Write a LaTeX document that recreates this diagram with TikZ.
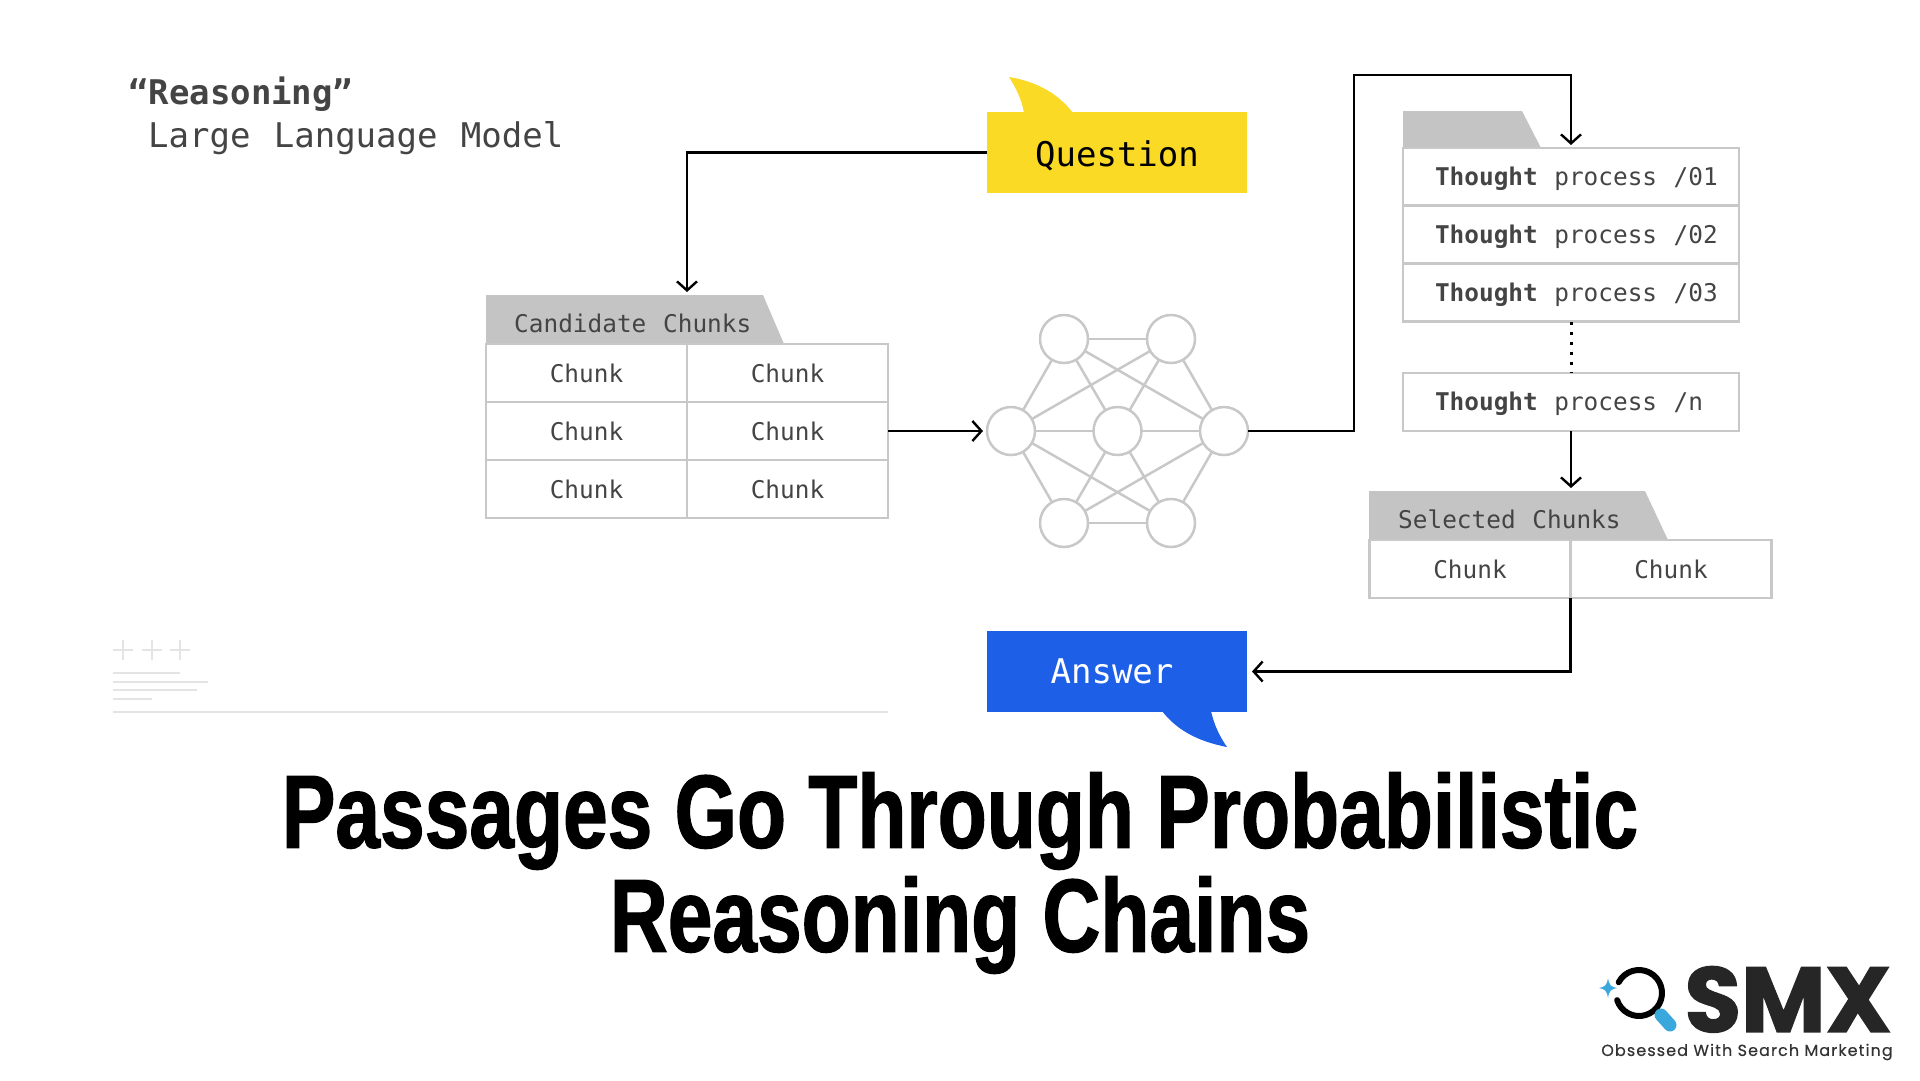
\documentclass[tikz,border=0pt]{standalone}
\usepackage{fontspec}
\usepackage{tikz}
\usetikzlibrary{calc,positioning,arrows.meta}
\setmainfont[WordSpace=1.14]{DejaVu Sans Mono}
\newfontfamily\titlefont[FakeStretch=0.772,FakeBold=1.2]{Liberation Sans}
\newfontfamily\logofont[FakeBold=1.5]{Poppins}
\newfontfamily\sloganfont[LetterSpace=6.8,FakeBold=0.4]{Poppins}
\newcommand{\tgap}{\hspace{16.5pt}}
\definecolor{cellgray}{RGB}{200,200,200}
\definecolor{tabgray}{RGB}{196,196,196}
\definecolor{inkgray}{RGB}{68,68,68}
\definecolor{faintgray}{RGB}{228,228,228}
\definecolor{askyellow}{RGB}{251,218,37}
\definecolor{ansblue}{RGB}{29,95,230}
\definecolor{logoblue}{RGB}{58,168,220}
\tikzset{
  conn/.style={line width=2.4pt, black, >={Straight Barb[length=9pt,width=20pt,line width=2.4pt]}},
  cell/.style={draw=cellgray, line width=2.5pt, outer sep=0pt, inner sep=0pt,
               font=\fontsize{24.4}{28}\selectfont, text=inkgray},
  chunkcell/.style={cell, minimum width=201pt, minimum height=58pt},
  thoughtcell/.style={cell, inner xsep=16pt, text width=304pt, minimum height=58pt, anchor=center},
  tabfill/.style={fill=tabgray},
  tablabel/.style={font=\fontsize{24.4}{28}\selectfont, text=inkgray, anchor=west, inner sep=0pt},
  neuron/.style={circle, draw=cellgray, fill=white, line width=2.5pt, minimum size=48pt,
                 inner sep=0pt, outer sep=0pt},
  nedge/.style={cellgray, line width=2.5pt},
  bubble/.style={minimum width=260pt, minimum height=81pt, inner sep=0pt, outer sep=0pt,
                 font=\fontsize{34}{40}\selectfont},
  faint/.style={faintgray, line width=1.8pt},
}
\begin{document}
\begin{tikzpicture}[x=1pt,y=-1pt]
  \useasboundingbox (0,0) rectangle (1920,1080);
  % heading
  \node[anchor=west, inner sep=0pt, text=inkgray, font=\fontsize{34}{40}\selectfont\bfseries] (headA) at (128,94) {“Reasoning”};
  \node[anchor=west, inner sep=0pt, text=inkgray, font=\fontsize{34}{40}\selectfont] (headB) at (148,138) {Large Language Model};
  % question and answer
  \fill[askyellow] (1009,77) .. controls (1040,82) and (1060,96) .. (1073,113) -- (1024,113) .. controls (1022,100) and (1016,88) .. (1009,77) -- cycle;
  \node[bubble, fill=askyellow, text=black] (question) at (1117,152.5) {\raisebox{-14pt}[0pt][0pt]{Question}};
  \fill[ansblue] (1227,747) .. controls (1196,741) and (1176,729) .. (1162,711) -- (1211,711) .. controls (1214,725) and (1220,737) .. (1227,747) -- cycle;
  \node[bubble, fill=ansblue, text=white] (answer) at (1117,671.5) {Answer\hspace*{10pt}};
  % candidate table
  \fill[tabfill] (486,295) -- (763,295) -- (784,344) -- (486,344) -- cycle;
  \node[tablabel] (candlabel) at (514,323) {Candidate Chunks};
  \coordinate (candtop) at (687,292);
  \foreach \r/\y in {1/373,2/431,3/489}{
    \node[chunkcell] (cand\r a) at (586.5,\y) {Chunk};
    \node[chunkcell] (cand\r b) at (787.5,\y) {Chunk};
  }
  % network
  \node[neuron] (tl) at (1064,339) {};
  \node[neuron] (tr) at (1171,339) {};
  \node[neuron] (ml) at (1011,431) {};
  \node[neuron] (mm) at (1117.5,431) {};
  \node[neuron] (mr) at (1224,431) {};
  \node[neuron] (bl) at (1064,523) {};
  \node[neuron] (br) at (1171,523) {};
  \foreach \a/\b in {tl/tr,tl/ml,tl/mm,tl/mr,tr/ml,tr/mm,tr/mr,ml/mm,mm/mr,ml/bl,ml/br,mm/bl,mm/br,mr/bl,mr/br,bl/br}{
    \draw[nedge] (\a) -- (\b);
  }
  % thought stack
  \fill[tabfill] (1403,111) -- (1522,111) -- (1541,148) -- (1403,148) -- cycle;
  \foreach \r/\y/\t in {1/177/01,2/234.5/02,3/292.5/03,n/402/n}{
    \node[thoughtcell] (th\r) at (1571,\y) {\hspace*{16pt}\raisebox{-8.5pt}[0pt][0pt]{\textbf{Thought}\tgap process\tgap /\t}};
  }
  % selected table
  \fill[tabfill] (1369,491) -- (1645,491) -- (1668,540) -- (1369,540) -- cycle;
  \node[tablabel] (sellabel) at (1398,519) {Selected Chunks};
  \coordinate (seltop) at (1571,488);
  \node[chunkcell] (selA) at (1470,569) {Chunk};
  \node[chunkcell] (selB) at (1671,569) {Chunk};
  % connectors
  \coordinate (turnup) at (1354,75);
  \draw[conn,->] (question.west) -| (candtop);
  \draw[conn,->] (cand2b.east) -- ($(ml.west)+(-4,0)$);
  \draw[conn,->,shorten >=3pt] (mr.east) -| (turnup) -| (th1.north);
  \draw[line width=3pt, black, dash pattern=on 3pt off 7pt] (th3.south) -- (thn.north);
  \draw[conn,->] (thn.south) -- (seltop);
  \draw[conn,->,shorten >=5pt] (selA.south east) |- (answer.east);
  % faint marks
  \foreach \x in {123,152,180}{
    \draw[faint] (\x-10,650) -- (\x+10,650) (\x,640) -- (\x,660);
  }
  \foreach \y/\e in {673/180,682/208,690/197,699/152}{
    \draw[faint] (113,\y) -- (\e,\y);
  }
  \draw[faint] (113,712) -- (888,712);
  % title
  \node[inner sep=0pt, align=center, text=black, font=\fontsize{104}{104}\titlefont\bfseries] (title) at (960,873) {Passages Go Through Probabilistic\\Reasoning Chains};
  % logo
  \draw[black, line width=6pt, line cap=round] (1639,993) ++(-152:23) arc[start angle=-152,end angle=162,radius=23];
  \draw[logoblue, line width=13pt, line cap=round] (1661,1015) -- (1670,1025);
  \fill[logoblue] (1608,978) .. controls (1609,985) and (1611,987) .. (1617,988) .. controls (1611,989) and (1609,991) .. (1608,998) .. controls (1607,991) and (1605,989) .. (1599,988) .. controls (1605,987) and (1607,985) .. (1608,978) -- cycle;
  \node[inner sep=0pt, anchor=south, text height=66pt, text depth=0pt, text=black!85, font=\fontsize{92}{92}\logofont\bfseries] (smx) at (1788,1032) {SMX};
  \node[inner sep=0pt, text=black!80, font=\fontsize{16}{18}\sloganfont] (slogan) at (1747,1052) {Obsessed With Search Marketing};
\end{tikzpicture}
\end{document}
